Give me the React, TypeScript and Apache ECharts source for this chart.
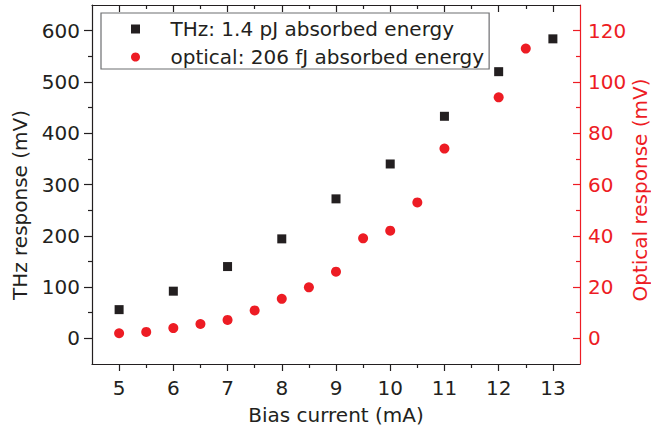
import React, { useEffect, useRef } from "react";
import * as echarts from "echarts";

const biasTHz = [5, 6, 7, 8, 9, 10, 11, 12, 13];
const thzResponse = [56, 92, 140, 194, 272, 340, 433, 520, 584];
const biasOpt = [5, 5.5, 6, 6.5, 7, 7.5, 8, 8.5, 9, 9.5, 10, 10.5, 11, 12, 12.5];
const optResponse = [2, 2.5, 4, 5.6, 7.2, 10.9, 15.4, 19.9, 26, 39, 42, 53, 74, 94, 113];

const xMajor = [5, 6, 7, 8, 9, 10, 11, 12, 13];
const xMinor = [5.5, 6.5, 7.5, 8.5, 9.5, 10.5, 11.5, 12.5];
const yLeftMajor = [0, 100, 200, 300, 400, 500, 600];
const yLeftMinor = [50, 150, 250, 350, 450, 550];
const yRightMajor = [0, 20, 40, 60, 80, 100, 120];
const yRightMinor = [10, 30, 50, 70, 90, 110];

const BLACK = "#231f20";
const RED = "#ed1c24";
const FONT = "DejaVu Sans";
const THZ_NAME = "THz: 1.4 pJ absorbed energy";
const OPT_NAME = "optical: 206 fJ absorbed energy";

export default function App() {
  const ref = useRef<HTMLDivElement>(null);
  useEffect(() => {
    const chart = echarts.init(ref.current!, null, { renderer: "svg" });
    const line = (color: string, show = true) => ({ show, onZero: false, lineStyle: { color, width: 1.2 } });
    const tick = (vals: number[], len: number, inside: boolean, color: string) => ({
      show: true, customValues: vals, length: len, inside, lineStyle: { color, width: 1.2 },
    });
    const noLabel = { show: false };
    const xBase = { type: "value", min: 4.5, max: 13.5, splitLine: { show: false } };
    const yL = { type: "value", min: -50, max: 650, splitLine: { show: false } };
    const yR = { type: "value", min: -10, max: 130, splitLine: { show: false } };
    chart.setOption({
      animation: false,
      grid: { left: 92, right: 71, top: 5, bottom: 69, outerBoundsMode: "none" },
      xAxis: [
        { ...xBase, position: "bottom", axisLine: line(BLACK), axisTick: tick(xMajor, 7, false, BLACK),
          axisLabel: { customValues: xMajor, margin: 14, fontSize: 20, fontFamily: FONT, color: BLACK } },
        { ...xBase, position: "bottom", axisLine: line(BLACK, false), axisTick: tick(xMinor, 4, false, BLACK), axisLabel: noLabel },
        { ...xBase, position: "top", axisLine: line(BLACK), axisTick: tick(xMajor, 7, true, BLACK), axisLabel: noLabel },
        { ...xBase, position: "top", axisLine: line(BLACK, false), axisTick: tick(xMinor, 4, true, BLACK), axisLabel: noLabel },
      ],
      yAxis: [
        { ...yL, position: "left", axisLine: line(BLACK), axisTick: tick(yLeftMajor, 8, false, BLACK),
          axisLabel: { customValues: yLeftMajor, margin: 12, fontSize: 20, fontFamily: FONT, color: BLACK } },
        { ...yL, position: "left", axisLine: line(BLACK, false), axisTick: tick(yLeftMinor, 4, false, BLACK), axisLabel: noLabel },
        { ...yR, position: "right", axisLine: line(RED), axisTick: tick(yRightMajor, 7, true, RED),
          axisLabel: { customValues: yRightMajor, margin: 8, fontSize: 20, fontFamily: FONT, color: RED } },
        { ...yR, position: "right", axisLine: line(RED, false), axisTick: tick(yRightMinor, 4, true, RED), axisLabel: noLabel },
      ],
      legend: {
        orient: "vertical", left: 101, top: 13,
        padding: [6, 5, 2, 30], itemWidth: 60, itemHeight: 9, itemGap: 8,
        borderColor: "#6d6e71", borderWidth: 1.2, backgroundColor: "#fff",
        symbolKeepAspect: true,
        textStyle: { fontSize: 20, fontFamily: FONT, color: BLACK },
        data: [THZ_NAME, OPT_NAME],
      },
      series: [
        { name: THZ_NAME, type: "scatter", xAxisIndex: 0, yAxisIndex: 0,
          symbol: "path://M0,0H10V10H0Z", symbolKeepAspect: true, symbolSize: 9, itemStyle: { color: BLACK, opacity: 1 },
          data: biasTHz.map((x, i) => [x, thzResponse[i]]) },
        { name: OPT_NAME, type: "scatter", xAxisIndex: 0, yAxisIndex: 2,
          symbol: "circle", symbolSize: 10, itemStyle: { color: RED, opacity: 1 },
          data: biasOpt.map((x, i) => [x, optResponse[i]]) },
      ],
      graphic: [
        { type: "text", x: 336, y: 415, style: { text: "Bias current (mA)", fontSize: 20, fontFamily: FONT, fill: BLACK, align: "center", verticalAlign: "middle" } },
        { type: "text", x: 20, y: 205, rotation: Math.PI / 2, style: { text: "THz response (mV)", fontSize: 20, fontFamily: FONT, fill: BLACK, align: "center", verticalAlign: "middle" } },
        { type: "text", x: 640, y: 190, rotation: Math.PI / 2, style: { text: "Optical response (mV)", fontSize: 20, fontFamily: FONT, fill: RED, align: "center", verticalAlign: "middle" } },
      ],
    });
    return () => chart.dispose();
  }, []);
  return <div ref={ref} style={{ position: "fixed", left: 0, top: 0, width: 651, height: 433, background: "#fff" }} />;
}
